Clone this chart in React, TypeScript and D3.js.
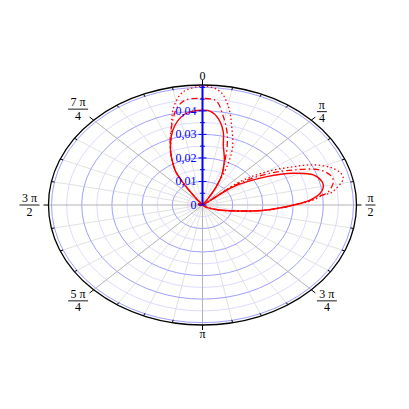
import React from 'react';
import * as d3 from 'd3';

// angles in degrees (clockwise from north), radii
const solidTheta = [-95, -85, -65, -45, -37, -35.5, -33.8, -31.5, -28.5, -24.4, -19.5, -15.05, -9.5, -4.4, -0.4, 3.6, 8.1, 12.5, 15.2, 21, 26.7, 30.9, 34.9, 40, 52.7, 60.5, 65.9, 70.8, 75.9, 79.0, 82.7, 86.6, 90, 95.7, 100.7, 110.1, 125, 140];
const solidR = [0, 0.0013, 0.0013, 0, 0.003, 0.0078, 0.0128, 0.0174, 0.0208, 0.0257, 0.031, 0.0351, 0.0387, 0.04, 0.0403, 0.04, 0.0371, 0.0318, 0.0263, 0.0202, 0.0142, 0.0081, 0.0024, 0, 0.0128, 0.0245, 0.033, 0.0389, 0.0408, 0.0408, 0.0393, 0.0357, 0.0301, 0.0214, 0.0138, 0.0062, 0.0017, 0];

const dashTheta = [-95, -85, -65, -45, -37, -35.5, -33.8, -31.5, -28.5, -24.4, -19.5, -14.8, -11.8, -7.4, 0.3, 5.8, 10.2, 14.9, 18.5, 21.3, 26.7, 30.9, 34.9, 40, 52.2, 58.2, 63.7, 69.1, 74.3, 77.3, 79.7, 83.1, 84.7, 86.6, 90, 95.7, 100.7, 110.1, 125, 140];
const dashR = [0, 0.0013, 0.0013, 0, 0.003, 0.0078, 0.0128, 0.0174, 0.0208, 0.0257, 0.0318, 0.038, 0.0419, 0.0449, 0.0453, 0.0445, 0.0385, 0.0317, 0.0256, 0.0206, 0.0142, 0.0081, 0.0024, 0, 0.014, 0.025, 0.0336, 0.0417, 0.0445, 0.0444, 0.0435, 0.0415, 0.038, 0.036, 0.0303, 0.0214, 0.0138, 0.0062, 0.0017, 0];

const dotTheta = [-95, -85, -65, -45, -37, -35.5, -33.8, -31.5, -28.5, -24.4, -21, -16.8, -13.3, -9.1, -6.1, 0.9, 6.9, 11.6, 16.2, 21.9, 25.7, 28.5, 31.5, 34.9, 40, 51.4, 56.4, 61.6, 65.1, 69.3, 73.1, 76.2, 78.0, 81.0, 83.3, 83.9, 86.6, 90, 95.7, 100.7, 110.1, 125, 140];
const dotR = [0, 0.0013, 0.0013, 0, 0.003, 0.0078, 0.0128, 0.0174, 0.0208, 0.0257, 0.029, 0.0354, 0.0421, 0.0473, 0.0492, 0.0505, 0.0486, 0.0427, 0.0347, 0.0267, 0.0197, 0.0125, 0.0075, 0.0024, 0, 0.0159, 0.0256, 0.0342, 0.0405, 0.0452, 0.0476, 0.048, 0.0472, 0.0448, 0.0426, 0.0403, 0.037, 0.0306, 0.0215, 0.0138, 0.0062, 0.0017, 0];

const radialMajor = [0, 0.01, 0.02, 0.03, 0.04];
const radialLabels = ['0', '0,01', '0,02', '0,03', '0,04'];
const radialMinor = [0.005, 0.015, 0.025, 0.035, 0.045, 0.05];
const gridStrong = [0.01, 0.02, 0.03, 0.04, 0.05];
const gridLight = [0.005, 0.015, 0.025, 0.035, 0.045];
const rMax = 0.051;

const angleNum = ['0', 'π', 'π', '3 π', 'π', '5 π', '3 π', '7 π'];
const angleDen = ['', '4', '2', '4', '', '4', '2', '4'];

const W = 409, H = 409;
const cx = 202.5, cy = 205, rx = 154, ry = 120;
const FONT = '"Liberation Serif", "Times New Roman", serif';

export default function App() {
  const xs = d3.scaleLinear().domain([-rMax, rMax]).range([cx - rx, cx + rx]);
  const ys = d3.scaleLinear().domain([-rMax, rMax]).range([cy + ry, cy - ry]);
  const toXY = (deg: number, r: number): [number, number] => {
    const a = (deg * Math.PI) / 180;
    return [xs(r * Math.sin(a)), ys(r * Math.cos(a))];
  };
  const line = d3.line<[number, number]>().x(d => d[0]).y(d => d[1]).curve(d3.curveCatmullRom.alpha(0.5));
  const mk = (t: number[], r: number[]) => line(t.map((a, i) => toXY(a, r[i]))) || '';

  const spokes = d3.range(32);
  const ell = (r: number) => ({ erx: xs(r) - cx, ery: cy - ys(r) });

  return (
    <svg width={W} height={H} style={{ position: 'absolute', left: 0, top: 0, background: '#fff' }}>
      {spokes.filter(k => k % 4 !== 0).map(k => {
        const [x, y] = toXY(k * 11.25, rMax);
        return <line key={'s' + k} x1={cx} y1={cy} x2={x} y2={y} stroke="#e2e2e2" strokeWidth={1} />;
      })}
      {gridLight.map(r => { const e = ell(r); return <ellipse key={'gl' + r} cx={cx} cy={cy} rx={e.erx} ry={e.ery} fill="none" stroke="#dcdcff" strokeWidth={1} />; })}
      {gridStrong.map(r => { const e = ell(r); return <ellipse key={'gs' + r} cx={cx} cy={cy} rx={e.erx} ry={e.ery} fill="none" stroke="#a0a0ff" strokeWidth={1} />; })}
      {spokes.filter(k => k % 4 === 0).map(k => {
        const [x, y] = toXY(k * 11.25, rMax);
        return <line key={'m' + k} x1={cx} y1={cy} x2={x} y2={y} stroke="#b4b4b4" strokeWidth={1} />;
      })}
      <ellipse cx={cx} cy={cy} rx={rx} ry={ry} fill="none" stroke="#000" strokeWidth={1.3} />
      {spokes.map(k => {
        const [x, y] = toXY(k * 11.25, rMax);
        const dx = x - cx, dy = y - cy; const L = Math.hypot(dx, dy);
        const ux = dx / L, uy = dy / L;
        const major = k % 4 === 0;
        return major
          ? <line key={'t' + k} x1={x} y1={y} x2={x + ux * 5} y2={y + uy * 5} stroke="#000" strokeWidth={1} />
          : <line key={'t' + k} x1={x} y1={y} x2={x - ux * 3} y2={y - uy * 3} stroke="#000" strokeWidth={1} />;
      })}
      {angleNum.map((num, k) => {
        const deg = k * 45;
        const [px, py] = toXY(deg, rMax);
        if (k === 0) return <text key={'a' + k} x={px} y={py - 5} textAnchor="middle" fontFamily={FONT} fontSize={12}>{num}</text>;
        if (k === 4) return <text key={'a' + k} x={px} y={py + 13} textAnchor="middle" fontFamily={FONT} fontSize={12}>{num}</text>;
        const hw = num.length > 1 ? 10 : 5;
        const sx = Math.sign(Math.round(Math.sin((deg * Math.PI) / 180) * 1000));
        const sy = -Math.sign(Math.round(Math.cos((deg * Math.PI) / 180) * 1000));
        let bx: number, by: number;
        if (sy === 0) { bx = px + sx * (9 + hw); by = py; }
        else { bx = px + sx * (5.5 + hw); by = py + sy * (6 + hw * 0.5); }
        return (
          <g key={'a' + k} fontFamily={FONT} fontSize={12}>
            <text x={bx} y={by - 2.7} textAnchor="middle">{num}</text>
            <line x1={bx - hw} x2={bx + hw} y1={by} y2={by} stroke="#000" strokeWidth={0.9} />
            <text x={bx} y={by + 10.6} textAnchor="middle">{angleDen[k]}</text>
          </g>
        );
      })}
      <path d={mk(solidTheta, solidR)} fill="none" stroke="#ff0000" strokeWidth={1.4} />
      <path d={mk(dashTheta, dashR)} fill="none" stroke="#ff0000" strokeWidth={1.3} strokeDasharray="6,3,1.5,3" />
      <path d={mk(dotTheta, dotR)} fill="none" stroke="#ff0000" strokeWidth={1.3} strokeDasharray="1.5,2.5" />
      <line x1={cx} y1={cy} x2={cx} y2={ys(rMax)} stroke="#0000ff" strokeWidth={2} />
      {radialMinor.map(r => <line key={'rn' + r} x1={cx - 2.5} x2={cx + 2.5} y1={ys(r)} y2={ys(r)} stroke="#0000ff" strokeWidth={1} />)}
      {radialMajor.map((r, i) => (
        <g key={'rm' + r}>
          <line x1={cx - 4} x2={cx + 4} y1={ys(r)} y2={ys(r)} stroke="#0000ff" strokeWidth={1} />
          <text x={cx - 6} y={ys(r) + 4} textAnchor="end" fill="#0000ff" fontFamily={FONT} fontSize={12}>{radialLabels[i]}</text>
        </g>
      ))}
    </svg>
  );
}
